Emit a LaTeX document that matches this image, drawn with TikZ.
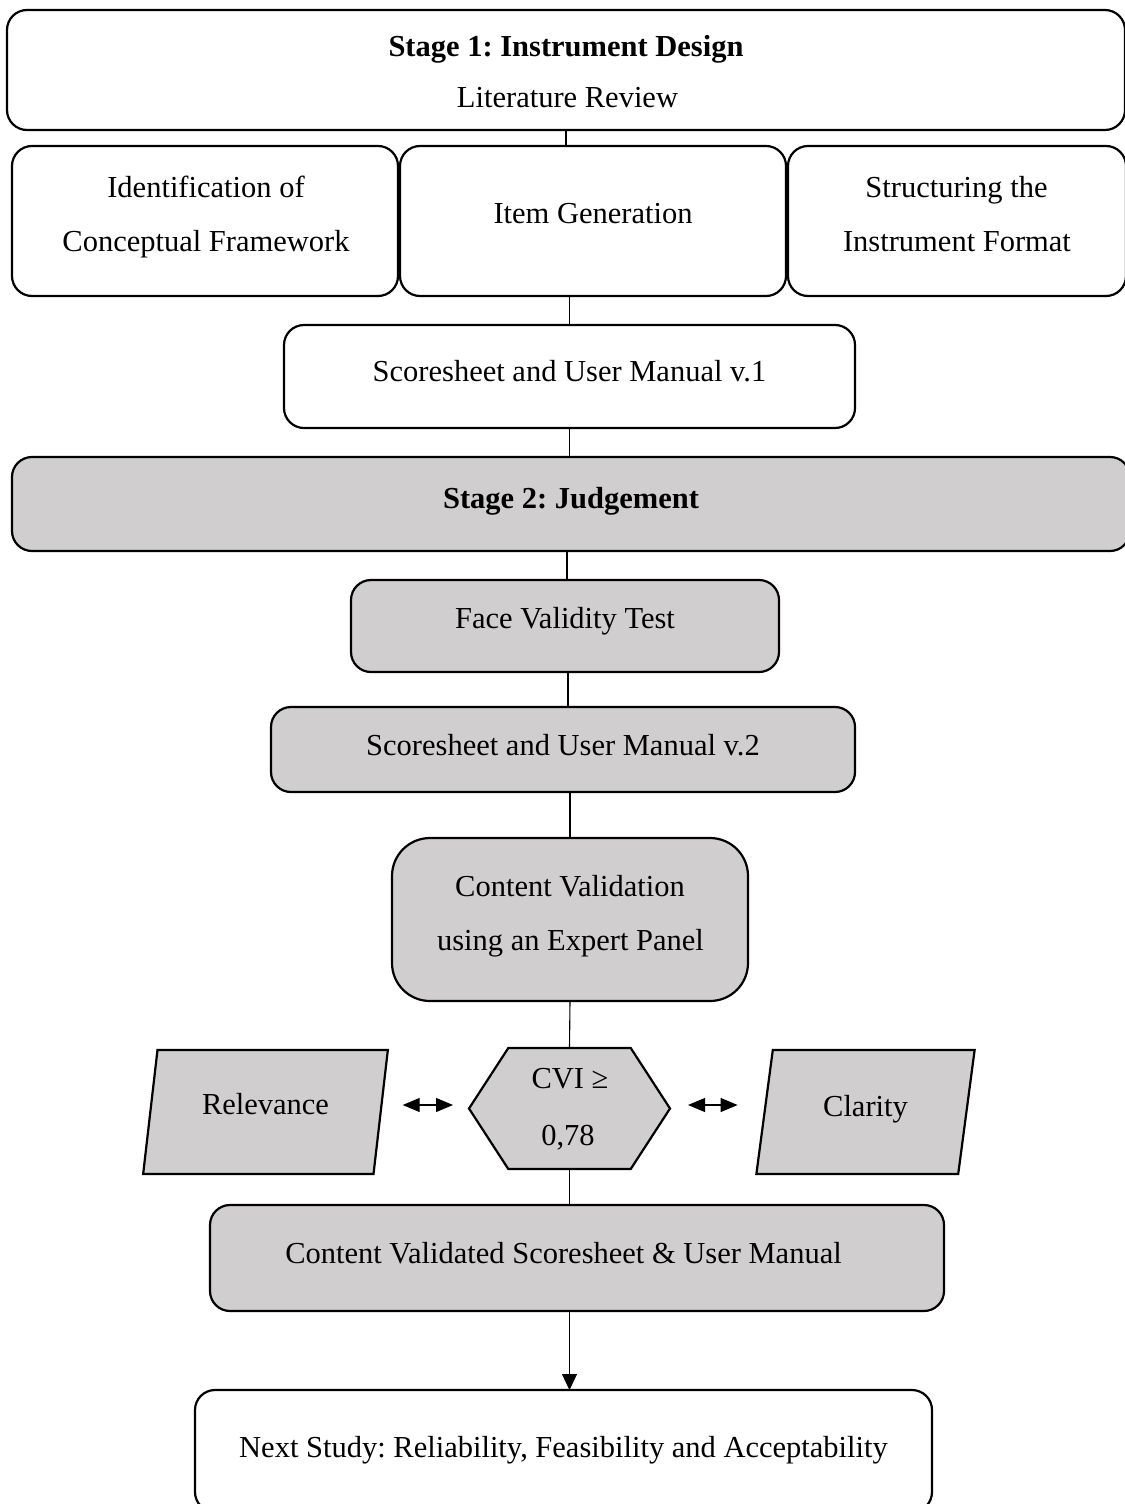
\documentclass[tikz,border=0pt]{standalone}
\usepackage{fontspec}
\setmainfont{Liberation Serif}
\usetikzlibrary{shapes.geometric,shapes.symbols,arrows.meta}
\definecolor{boxgrey}{HTML}{D0CECE}
\frenchspacing
\begin{document}
\begin{tikzpicture}[x=1pt,y=-1pt,
  font=\fontsize{30.5}{36}\selectfont,
  box/.style={draw, line width=2.2pt, rounded corners=20pt, inner sep=0pt, outer sep=0pt, text height=20.5pt},
  wbox/.style={box, fill=white},
  gbox/.style={box, fill=boxgrey},
  txt/.style={inner sep=0pt, text height=20.5pt, text depth=0pt},
  para/.style={draw, line width=2.2pt, fill=boxgrey, trapezium, trapezium left angle=77, trapezium right angle=103, trapezium stretches=true, inner sep=0pt, outer sep=0pt, minimum height=124pt, text height=20.5pt},
  hexa/.style={draw, line width=2.2pt, fill=boxgrey, signal, signal to=west and east, signal pointer angle=114, minimum width=201pt, minimum height=121pt, inner sep=0pt, outer sep=0pt},
  conn/.style={line width=1.1pt},
  dbl/.style={{Triangle[length=17pt,width=14pt]}-{Triangle[length=17pt,width=14pt]}},
]
\useasboundingbox (0,0) rectangle (1124,1504);

% Stage 1
\node[wbox, minimum width=1118pt, minimum height=120pt] (s1) at (566,70) {};
\node[txt, font=\fontsize{30.5}{36}\selectfont\bfseries] (s1a) at (566,46) {Stage 1: Instrument Design};
\node[txt] (s1b) at (567.5,97) {Literature Review};

\node[wbox, minimum width=386pt, minimum height=150pt] (idf) at (205,221) {};
\node[txt] (idf1) at (206,187) {Identification of};
\node[txt] (idf2) at (206,241) {Conceptual Framework};

\node[wbox, minimum width=386pt, minimum height=150pt, text depth=16pt] (ig) at (593,221) {Item Generation};

\node[wbox, minimum width=338pt, minimum height=150pt] (sif) at (957,221) {};
\node[txt] (sif1) at (956.5,187) {Structuring the};
\node[txt] (sif2) at (957,241) {Instrument Format};

\node[wbox, minimum width=571pt, minimum height=103pt, text depth=11pt] (v1) at (569.5,376.5) {Scoresheet and User Manual v.1};

% Stage 2
\node[gbox, minimum width=1118pt, minimum height=94pt, text depth=12pt, font=\fontsize{30.5}{36}\selectfont\bfseries] (s2) at (571,504) {Stage 2: Judgement};

\node[gbox, minimum width=428pt, minimum height=92pt, text depth=16pt] (fv) at (565,626) {Face Validity Test};

\node[gbox, minimum width=584pt, minimum height=85pt, text depth=9pt] (v2) at (563,749.5) {Scoresheet and User Manual v.2};

\node[gbox, rounded corners=38pt, minimum width=356pt, minimum height=163pt] (cv) at (570,919.5) {};
\node[txt] (cv1) at (570,886) {Content Validation};
\node[txt] (cv2) at (570.5,940) {using an Expert Panel};

\node[hexa] (hex) at (569.5,1108.5) {};
\node[txt] (hex1) at (570,1078) {CVI ≥};
\node[txt] (hex2) at (568,1135) {0,78};

\node[para, minimum width=245pt, text depth=16pt] (rel) at (265.5,1112) {Relevance};
\node[para, minimum width=219pt, text depth=12pt] (cla) at (865.5,1112) {Clarity};

\node[gbox, minimum width=734pt, minimum height=106pt, text depth=10pt] (cvs) at (577,1258) {Content Validated Scoresheet \& User Manual\hspace*{27pt}};

\node[wbox, minimum width=737pt, minimum height=122pt, text depth=8pt] (nxt) at (563.5,1451) {Next Study: Reliability, Feasibility and Acceptability};

% connectors
\draw[conn] (s1.south) -- (s1.south |- ig.north);
\draw[conn] (v1.north |- ig.south) -- (v1.north);
\draw[conn] (v1.south) -- (v1.south |- s2.north);
\draw[conn] ([xshift=2pt]fv.north |- s2.south) -- ([xshift=2pt]fv.north);
\draw[conn] ([xshift=3pt]fv.south) -- ([xshift=3pt]fv.south |- v2.north);
\draw[conn] (cv.north |- v2.south) -- (cv.north);
\draw[conn] (cv.south) -- (hex.north);
\draw[conn] (hex.south) -- (hex.south |- cvs.north);
\draw[conn, -{Triangle[length=16pt,width=15pt]}] (hex.south |- cvs.south) -- (hex.south |- nxt.north);
\draw[conn, dbl, shorten <=22pt, shorten >=16pt] ([yshift=3.5pt]hex.west -| rel.east) -- ([yshift=3.5pt]hex.west);
\draw[conn, dbl, shorten <=18pt, shorten >=27pt] ([yshift=3.5pt]hex.east) -- ([yshift=3.5pt]hex.east -| cla.west);
\end{tikzpicture}
\end{document}
